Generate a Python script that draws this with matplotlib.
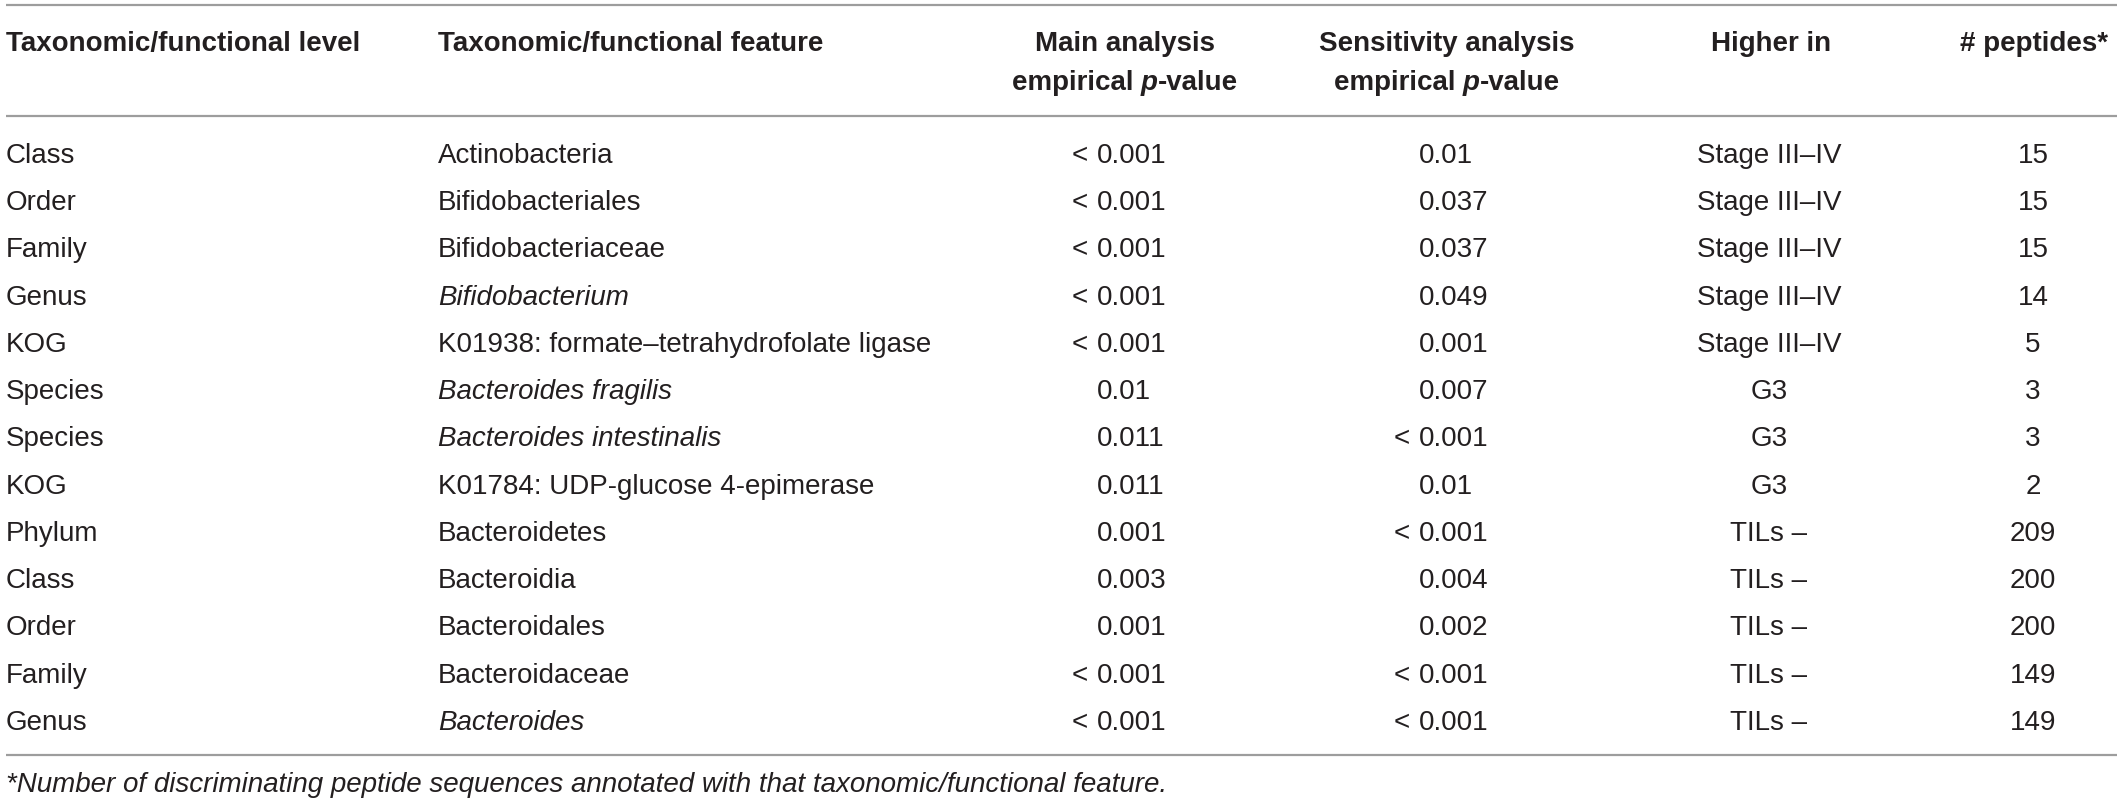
import matplotlib
matplotlib.use("Agg")
import matplotlib.pyplot as plt

# table content
levels = ["Class", "Order", "Family", "Genus", "KOG", "Species", "Species", "KOG",
          "Phylum", "Class", "Order", "Family", "Genus"]
features = ["Actinobacteria", "Bifidobacteriales", "Bifidobacteriaceae", "Bifidobacterium",
            "K01938: formate\u2013tetrahydrofolate ligase", "Bacteroides fragilis",
            "Bacteroides intestinalis", "K01784: UDP-glucose 4-epimerase",
            "Bacteroidetes", "Bacteroidia", "Bacteroidales", "Bacteroidaceae", "Bacteroides"]
italic_features = [False, False, False, True, False, True, True, False,
                   False, False, False, False, True]
main_p = ["< 0.001", "< 0.001", "< 0.001", "< 0.001", "< 0.001", "0.01", "0.011", "0.011",
          "0.001", "0.003", "0.001", "< 0.001", "< 0.001"]
sens_p = ["0.01", "0.037", "0.037", "0.049", "0.001", "0.007", "< 0.001", "0.01",
          "< 0.001", "0.004", "0.002", "< 0.001", "< 0.001"]
higher_in = ["Stage III\u2013IV"] * 5 + ["G3"] * 3 + ["TILs \u2013"] * 5
n_peptides = [15, 15, 15, 14, 5, 3, 3, 2, 209, 200, 200, 149, 149]

footnote = "*Number of discriminating peptide sequences annotated with that taxonomic/functional feature."

W, H = 2117, 804
FONT = "Liberation Sans"
TXT = "#231f20"
RULE = "#9d9d9d"
FS = 20

fig = plt.figure(figsize=(W / 100, H / 100), dpi=100)
ax = fig.add_axes([0, 0, 1, 1])
ax.set_xlim(0, W)
ax.set_ylim(H, 0)
ax.axis("off")
renderer = fig.canvas.get_renderer()


def width_of(t):
    bb = t.get_window_extent(renderer=renderer)
    return bb.width


def rich_centered(cx, y, parts):
    # parts: list of (text, style); draws them side by side centred at cx
    objs = []
    for s, style in parts:
        objs.append(ax.text(0, y, s, fontfamily=FONT, fontsize=FS, fontweight="bold",
                            fontstyle=style, color=TXT, ha="left", va="baseline"))
    widths = [width_of(o) for o in objs]
    x = cx - sum(widths) / 2
    for o, w in zip(objs, widths):
        o.set_x(x)
        x += w


# rules
for yr in (6, 117, 756):
    ax.plot([6, W], [yr, yr], color=RULE, lw=1.6, solid_capstyle="butt")

# header
h1, h2 = 51, 90
hdr = dict(fontfamily=FONT, fontsize=FS, fontweight="bold", color=TXT, va="baseline")
ax.text(6, h1, "Taxonomic/functional level", ha="left", **hdr)
ax.text(438, h1, "Taxonomic/functional feature", ha="left", **hdr)
ax.text(1125, h1, "Main analysis", ha="center", **hdr)
rich_centered(1125, h2, [("empirical ", "normal"), ("p", "italic"), ("-value", "normal")])
ax.text(1447, h1, "Sensitivity analysis", ha="center", **hdr)
rich_centered(1447, h2, [("empirical ", "normal"), ("p", "italic"), ("-value", "normal")])
ax.text(1771, h1, "Higher in", ha="center", **hdr)
ax.text(2034, h1, "# peptides*", ha="center", **hdr)

# body
body = dict(fontfamily=FONT, fontsize=FS, color=TXT, va="baseline")
y0, step = 163, 47.25


def p_cell(x0, y, val):
    # decimal-style alignment: number starts at x0, "<" hangs to its left
    if val.startswith("<"):
        ax.text(x0 - 9, y, "<", ha="right", **body)
        val = val[1:].strip()
    ax.text(x0, y, val, ha="left", **body)


for i in range(len(levels)):
    y = y0 + i * step
    ax.text(6, y, levels[i], ha="left", **body)
    ax.text(438, y, features[i], ha="left",
            fontstyle="italic" if italic_features[i] else "normal", **body)
    p_cell(1097, y, main_p[i])
    p_cell(1419, y, sens_p[i])
    ax.text(1769, y, higher_in[i], ha="center", **body)
    ax.text(2033, y, str(n_peptides[i]), ha="center", **body)

ax.text(6, 792, footnote, ha="left", fontstyle="italic", **body)

fig.savefig("out.png", dpi=100)
